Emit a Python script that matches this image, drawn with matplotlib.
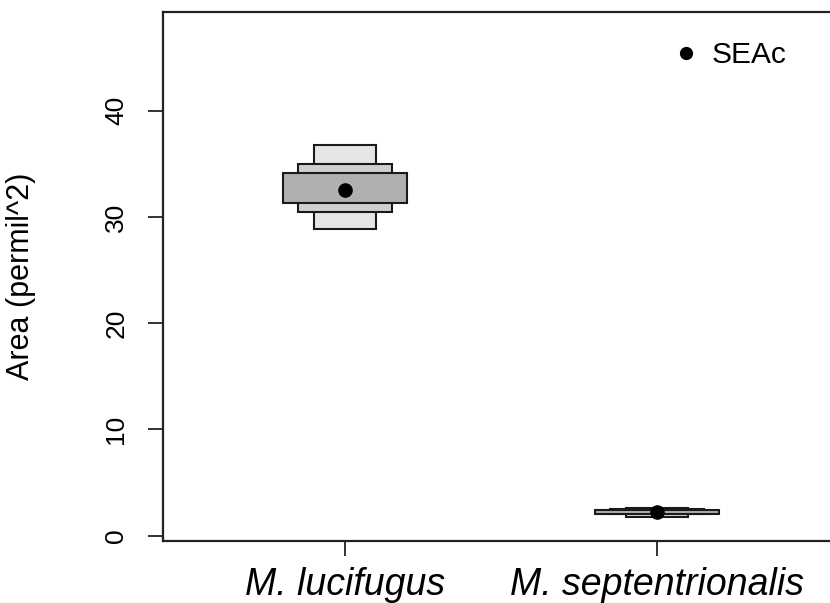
import matplotlib
matplotlib.use("Agg")
import matplotlib.pyplot as plt
from matplotlib.patches import Rectangle
from matplotlib.lines import Line2D

# credible intervals of SEA area per group
groups = ["M. lucifugus", "M. septentrionalis"]
modes = [32.5, 2.25]
ci95_lo = [28.9, 1.8]
ci95_hi = [36.8, 2.65]
ci75_lo = [30.5, 2.0]
ci75_hi = [35.0, 2.5]
ci50_lo = [31.3, 2.05]
ci50_hi = [34.1, 2.45]
yticks = [0, 10, 20, 30, 40]

plt.rcParams['font.family'] = ['Liberation Sans', 'DejaVu Sans']

fig = plt.figure(figsize=(8.3, 6.03), dpi=100)
ax = fig.add_axes([163/830, 1 - 540.7/603, 667/830, (540.7 - 12)/603])

# 95% widest in y but narrowest in x, 50% the other way round
levels = [(ci95_lo, ci95_hi, 0.1, "#e5e5e5"),
          (ci75_lo, ci75_hi, 0.15, "#cfcfcf"),
          (ci50_lo, ci50_hi, 0.2, "#b0b0b0")]
for lo, hi, hw, col in levels:
    for i in range(len(groups)):
        x = i + 1
        ax.add_patch(Rectangle((x - hw, lo[i]), 2*hw, hi[i] - lo[i],
                               facecolor=col, edgecolor="#1a1a1a", lw=1.5, zorder=2))

ax.plot(range(1, len(groups) + 1), modes, "o", color="black", ms=9.5, zorder=3)

ax.set_xlim(0.4167, 2.5545)
ax.set_ylim(-0.47, 49.29)
ax.set_xticks(range(1, len(groups) + 1))
ax.set_xticklabels(groups, fontsize=27, style="italic")
ax.set_yticks(yticks)
ax.set_yticklabels([str(t) for t in yticks], rotation=90, va="center", fontsize=19)
ax.tick_params(axis="y", length=11, width=1.3, pad=14, color="#222222")
ax.tick_params(axis="x", length=11, width=1.3, pad=8, color="#222222")
ax.set_ylabel("Area (permil^2)", fontsize=22, va="center")
ax.yaxis.set_label_coords((21 - 163)/667, 0.5)

for s in ["left", "top", "bottom"]:
    ax.spines[s].set_linewidth(1.6)
    ax.spines[s].set_color("#222222")
ax.spines["right"].set_visible(False)

h = Line2D([], [], marker="o", ls="none", color="black", ms=8.5)
ax.legend([h], ["SEAc"], loc="center left", bbox_to_anchor=((662 - 163)/667, 0.9187),
          frameon=False, fontsize=21.5, handlelength=0.8, handletextpad=0.47,
          borderaxespad=0)

fig.savefig("out.png", dpi=100)
